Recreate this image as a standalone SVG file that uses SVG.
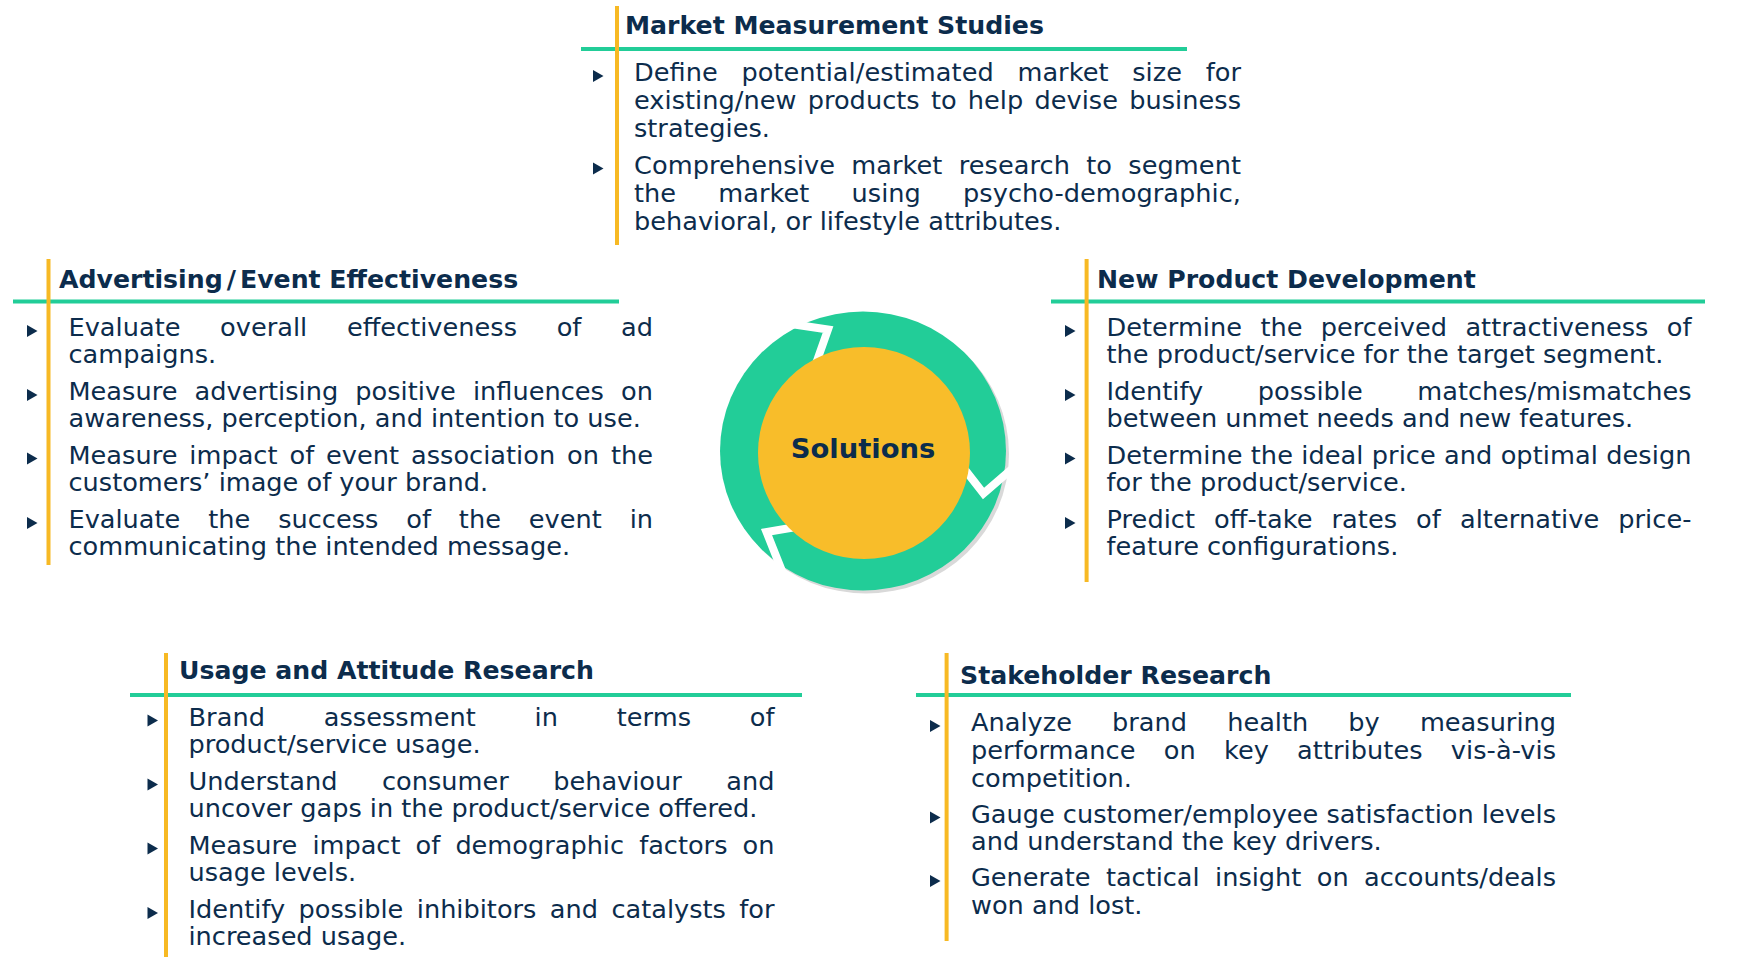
<svg xmlns="http://www.w3.org/2000/svg" xmlns:xlink="http://www.w3.org/1999/xlink" width="1738" height="976" viewBox="0 0 1738 976">
<style>
.t{font-family:"DejaVu Sans",Verdana,sans-serif;font-weight:bold;font-size:25.2px;fill:#0c2c4c}
.b{font-family:"DejaVu Sans",Verdana,sans-serif;font-size:25.6px;fill:#0c2c4c}
.g{fill:#22cd98}
.y{fill:#f7b924}
.bul{fill:#0c2c4c}
</style>
<defs>
<path id="tri" d="M0,-6 L10.5,0 L0,6 Z"/>
</defs>
<rect width="1738" height="976" fill="#ffffff"/>

<g id="connectors"></g>

<g id="node-solutions">
<ellipse cx="866" cy="454" rx="143" ry="139.5" fill="#d9d9d9"/>
<ellipse cx="863" cy="451" rx="143" ry="139.5" fill="#22cd98"/>
<g fill="none" stroke="#ffffff" stroke-width="8" stroke-linejoin="miter" stroke-miterlimit="10">
<polyline points="791,324 828,329.5 813,372"/>
<polyline points="955,457 983.5,493.5 1013,468"/>
<polyline points="808,525 766.5,532 782,571"/>
</g>
<circle cx="864" cy="453" r="106" fill="#f8bd2a"/>
<text x="863" y="458" text-anchor="middle" style="font-family:'DejaVu Sans',Verdana,sans-serif;font-weight:bold;font-size:27.4px;fill:#0c2c4c">Solutions</text>
</g>

<g id="node-market">
<rect class="g" x="581" y="47" width="606" height="4"/>
<rect class="y" x="615" y="6" width="4" height="239"/>
<text class="t" x="625" y="34">Market Measurement Studies</text>
<use href="#tri" x="593" y="76" class="bul"/>
<use href="#tri" x="593" y="168.5" class="bul"/>
<text class="b" x="634" y="81" textLength="607" lengthAdjust="spacing" style="word-spacing:15.5px">Define potential/estimated market size for</text>
<text class="b" x="634" y="109" textLength="607" lengthAdjust="spacing" style="word-spacing:3px">existing/new products to help devise business</text>
<text class="b" x="634" y="137">strategies.</text>
<text class="b" x="634" y="173.5" textLength="607" lengthAdjust="spacing" style="word-spacing:8px">Comprehensive market research to segment</text>
<text class="b" x="634" y="201.5" textLength="607" lengthAdjust="spacing" style="word-spacing:34px">the market using psycho-demographic,</text>
<text class="b" x="634" y="229.5">behavioral, or lifestyle attributes.</text>
</g>

<g id="node-advertising">
<rect class="g" x="13" y="299.5" width="606" height="4"/>
<rect class="y" x="46.5" y="259" width="4" height="306"/>
<text class="t" x="59" y="288">Advertising<tspan dx="4">/</tspan><tspan dx="4">Event Effectiveness</tspan></text>
<use href="#tri" x="27" y="331" class="bul"/>
<use href="#tri" x="27" y="395" class="bul"/>
<use href="#tri" x="27" y="458.5" class="bul"/>
<use href="#tri" x="27" y="523" class="bul"/>
<text class="b" x="68.5" y="336" textLength="584.5" lengthAdjust="spacing" style="word-spacing:31.5px">Evaluate overall effectiveness of ad</text>
<text class="b" x="68.5" y="363">campaigns.</text>
<text class="b" x="68.5" y="400" textLength="584.5" lengthAdjust="spacing" style="word-spacing:9px">Measure advertising positive influences on</text>
<text class="b" x="68.5" y="427">awareness, perception, and intention to use.</text>
<text class="b" x="68.5" y="463.5" textLength="584.5" lengthAdjust="spacing" style="word-spacing:3.8px">Measure impact of event association on the</text>
<text class="b" x="68.5" y="490.5">customers’ image of your brand.</text>
<text class="b" x="68.5" y="528" textLength="584.5" lengthAdjust="spacing" style="word-spacing:19.8px">Evaluate the success of the event in</text>
<text class="b" x="68.5" y="555">communicating the intended message.</text>
</g>

<g id="node-newproduct">
<rect class="g" x="1051" y="299.5" width="654" height="4"/>
<rect class="y" x="1084.6" y="259" width="4" height="323"/>
<text class="t" x="1097" y="288">New Product Development</text>
<use href="#tri" x="1065" y="331" class="bul"/>
<use href="#tri" x="1065" y="395" class="bul"/>
<use href="#tri" x="1065" y="458.5" class="bul"/>
<use href="#tri" x="1065" y="523" class="bul"/>
<text class="b" x="1106.5" y="336" textLength="585" lengthAdjust="spacing" style="word-spacing:10.2px">Determine the perceived attractiveness of</text>
<text class="b" x="1106.5" y="363">the product/service for the target segment.</text>
<text class="b" x="1106.5" y="400" textLength="585" lengthAdjust="spacing" style="word-spacing:46.5px">Identify possible matches/mismatches</text>
<text class="b" x="1106.5" y="427">between unmet needs and new features.</text>
<text class="b" x="1106.5" y="463.5" textLength="585" lengthAdjust="spacing">Determine the ideal price and optimal design</text>
<text class="b" x="1106.5" y="490.5">for the product/service.</text>
<text class="b" x="1106.5" y="528" textLength="585" lengthAdjust="spacing" style="word-spacing:10.8px">Predict off-take rates of alternative price-</text>
<text class="b" x="1106.5" y="555">feature configurations.</text>
</g>

<g id="node-usage">
<rect class="g" x="130" y="693" width="672" height="4"/>
<rect class="y" x="164" y="653" width="4" height="304"/>
<text class="t" x="179" y="678.5">Usage and Attitude Research</text>
<use href="#tri" x="147.5" y="720.5" class="bul"/>
<use href="#tri" x="147.5" y="784.5" class="bul"/>
<use href="#tri" x="147.5" y="848.5" class="bul"/>
<use href="#tri" x="147.5" y="913" class="bul"/>
<text class="b" x="188.5" y="725.5" textLength="586" lengthAdjust="spacing" style="word-spacing:50.5px">Brand assessment in terms of</text>
<text class="b" x="188.5" y="753">product/service usage.</text>
<text class="b" x="188.5" y="789.5" textLength="586" lengthAdjust="spacing" style="word-spacing:36.5px">Understand consumer behaviour and</text>
<text class="b" x="188.5" y="817">uncover gaps in the product/service offered.</text>
<text class="b" x="188.5" y="853.5" textLength="586" lengthAdjust="spacing" style="word-spacing:7px">Measure impact of demographic factors on</text>
<text class="b" x="188.5" y="881">usage levels.</text>
<text class="b" x="188.5" y="918" textLength="586" lengthAdjust="spacing" style="word-spacing:5.3px">Identify possible inhibitors and catalysts for</text>
<text class="b" x="188.5" y="945">increased usage.</text>
</g>

<g id="node-stakeholder">
<rect class="g" x="916" y="693" width="655" height="4"/>
<rect class="y" x="944.6" y="653" width="4" height="288"/>
<text class="t" x="960" y="683.5">Stakeholder Research</text>
<use href="#tri" x="930" y="726" class="bul"/>
<use href="#tri" x="930" y="817.5" class="bul"/>
<use href="#tri" x="930" y="881" class="bul"/>
<text class="b" x="971" y="731" textLength="585" lengthAdjust="spacing" style="word-spacing:32px">Analyze brand health by measuring</text>
<text class="b" x="971" y="758.5" textLength="585" lengthAdjust="spacing" style="word-spacing:20px">performance on key attributes vis-à-vis</text>
<text class="b" x="971" y="786.5">competition.</text>
<text class="b" x="971" y="822.5" textLength="585" lengthAdjust="spacing">Gauge customer/employee satisfaction levels</text>
<text class="b" x="971" y="850">and understand the key drivers.</text>
<text class="b" x="971" y="886" textLength="585" lengthAdjust="spacing" style="word-spacing:7.3px">Generate tactical insight on accounts/deals</text>
<text class="b" x="971" y="913.5">won and lost.</text>
</g>
</svg>
